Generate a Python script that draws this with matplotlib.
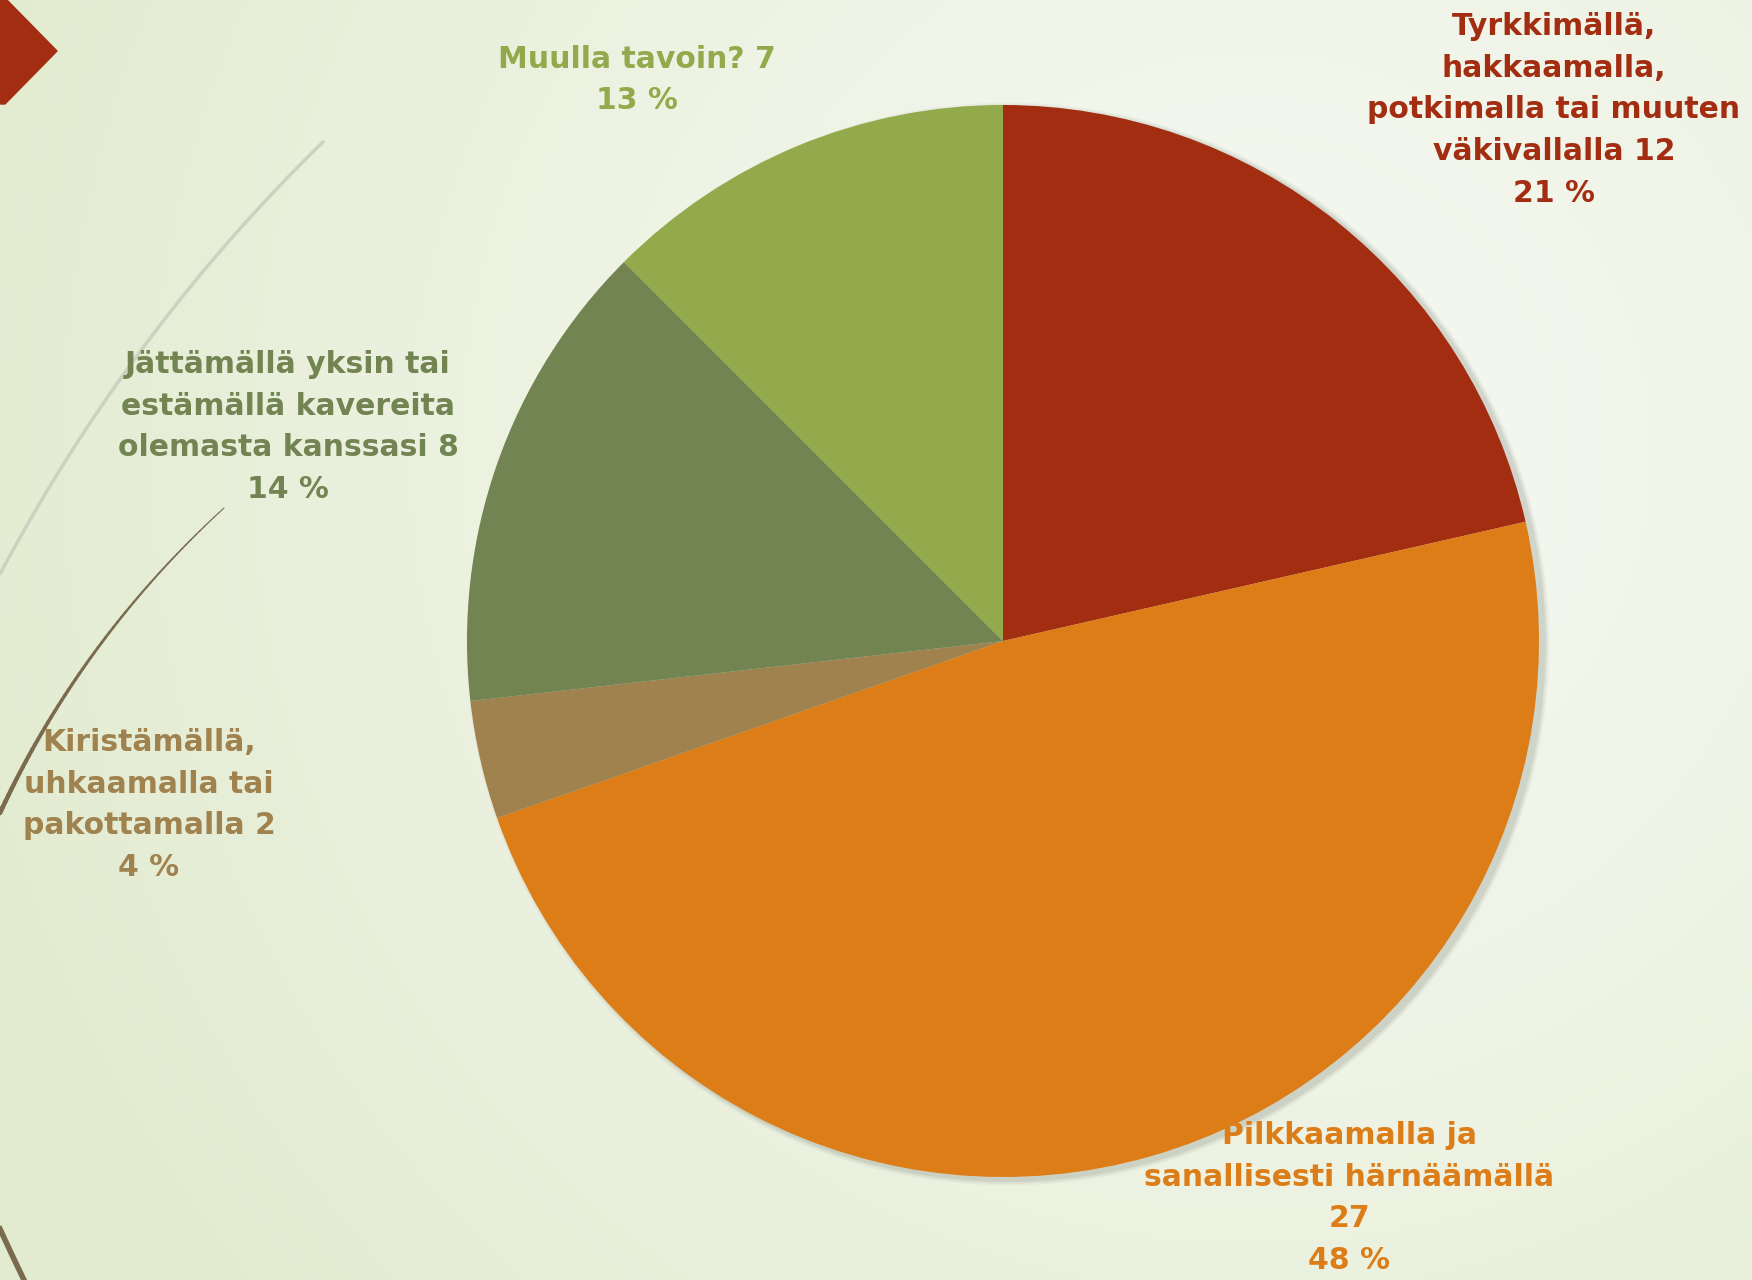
import numpy as np
import matplotlib.pyplot as plt
from matplotlib.patches import Polygon, Circle
from matplotlib.colors import to_rgb

plt.rcParams['font.family'] = 'DejaVu Sans'

# data
categories = ['Tyrkkimällä,\nhakkaamalla,\npotkimalla tai muuten\nväkivallalla',
              'Pilkkaamalla ja\nsanallisesti härnäämällä',
              'Kiristämällä,\nuhkaamalla tai\npakottamalla',
              'Jättämällä yksin tai\nestämällä kavereita\nolemasta kanssasi',
              'Muulla tavoin?']
values = [12, 27, 2, 8, 7]
colors = ['#A32D11', '#DC7D18', '#A0824F', '#718451', '#93AA4C']
value_sep = [' ', '\n', ' ', ' ', ' ']

# label centres in pixels (x, y from top)
label_pos = [(1554, 110), (1349, 1198), (149, 805), (288, 427), (637, 80)]

W, H = 1752, 1280
fig = plt.figure(figsize=(W / 100, H / 100), dpi=100)
ax = fig.add_axes([0, 0, 1, 1])

# background gradient
yy, xx = np.mgrid[0:H:4, 0:W:4]
d = np.sqrt((xx - 1250) ** 2 + (yy - 450) ** 2) / 1350
d = np.clip(d, 0, 1) ** 1.3
inner = np.array(to_rgb('#F6F8F1'))
outer = np.array(to_rgb('#E2EBCF'))
img = inner[None, None, :] * (1 - d[..., None]) + outer[None, None, :] * d[..., None]
ax.imshow(img, extent=(0, W, 0, H), origin='upper', zorder=0, interpolation='bilinear')


def bezier(p0, p1, p2, n=60):
    t = np.linspace(0, 1, n)[:, None]
    p0, p1, p2 = map(np.array, (p0, p1, p2))
    pts = (1 - t) ** 2 * p0 + 2 * (1 - t) * t * p1 + t ** 2 * p2
    return pts[:, 0], H - pts[:, 1]


# decorative curves
gx, gy = bezier((323, 142), (130, 330), (0, 574))
ax.plot(gx, gy, color='#CDD1C0', lw=2.5, zorder=1, solid_capstyle='round')

bx, by = bezier((224, 508), (80, 640), (0, 813))
n = len(bx)
for i in range(n - 1):
    ax.plot(bx[i:i + 2], by[i:i + 2], color='#7A6A4E', lw=0.8 + 2.6 * i / n,
            zorder=1, solid_capstyle='round')

b2x, b2y = bezier((0, 1229), (11, 1253), (24, 1280))
ax.plot(b2x, b2y, color='#7A6A4E', lw=4, zorder=1)

ax.add_patch(Polygon([(0, H + 2), (5, H + 2), (57, H - 51), (5, H - 104), (0, H - 104)],
                     closed=True, color='#A32D11', zorder=2))

# pie with soft shadow
cx, cy, r = 1003, H - 641, 536
for k, a in zip([9, 6, 3], [0.08, 0.12, 0.18]):
    ax.add_patch(Circle((cx + 5, cy - 3), r + k * 0.6, color='#8E958A', alpha=a, lw=0, zorder=2))

ax.pie(values, colors=colors, startangle=90, counterclock=False,
       center=(cx, cy), radius=r, wedgeprops=dict(linewidth=0, zorder=3))

total = sum(values)
for cat, v, sep, col, (lx, ly) in zip(categories, values, value_sep, colors, label_pos):
    pct = int(np.floor(100 * v / total + 0.5))
    txt = f'{cat}{sep}{v}\n{pct} %'
    ax.text(lx, H - ly, txt, ha='center', va='center', color=col,
            fontsize=21.5, fontweight='bold', linespacing=1.55, zorder=4)

ax.set_xlim(0, W)
ax.set_ylim(0, H)
ax.set_aspect('auto')
ax.axis('off')

fig.savefig('out.png', dpi=100)
